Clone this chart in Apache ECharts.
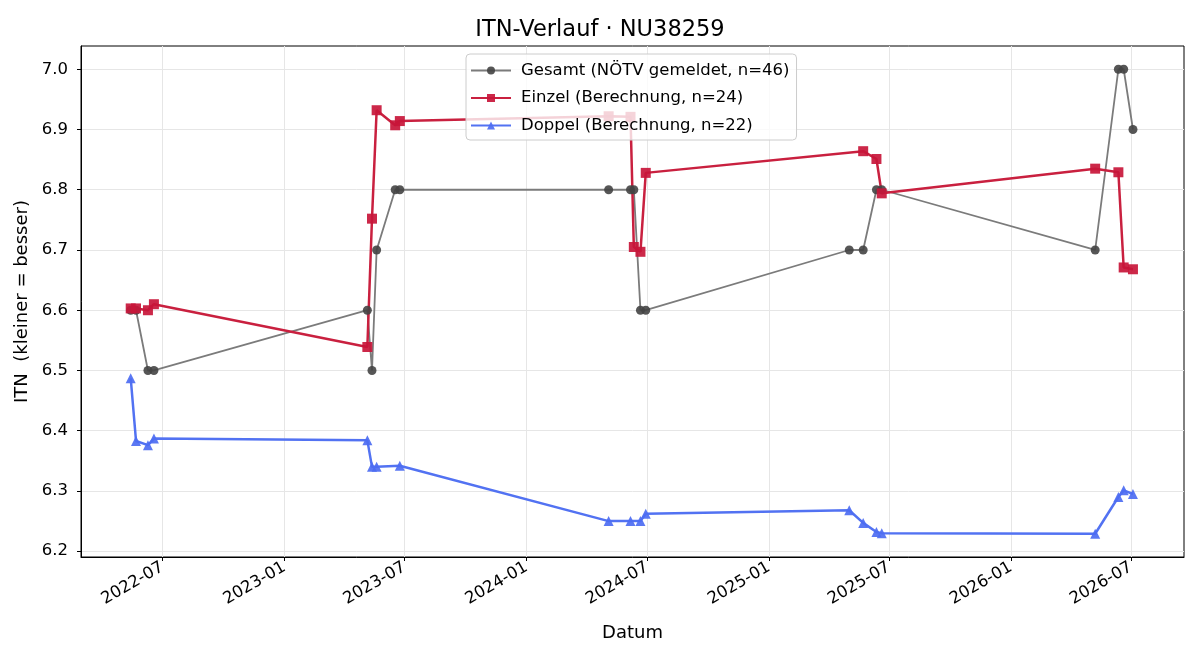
<!DOCTYPE html>
<html>
<head>
<meta charset="utf-8">
<script src="https://cdn.jsdelivr.net/npm/echarts@6/dist/echarts.min.js"></script>
<style>
  html, body { margin: 0; padding: 0; background: #fff; }
  #chart { width: 1200px; height: 660px; }
</style>
</head>
<body>
<div id="chart"></div>
<script>
// values
var gesamtDates = ['2022-05-14','2022-05-22','2022-06-09','2022-06-18','2023-05-06','2023-05-13','2023-05-20','2023-06-17','2023-06-24','2024-05-04','2024-06-06','2024-06-11','2024-06-21','2024-06-29','2025-05-02','2025-05-23','2025-06-12','2025-06-20','2026-05-08','2026-06-12','2026-06-20','2026-07-04'];
var gesamtValues = [6.6, 6.6, 6.5, 6.5, 6.6, 6.5, 6.7, 6.8, 6.8, 6.8, 6.8, 6.8, 6.6, 6.6, 6.7, 6.7, 6.8, 6.8, 6.7, 7.0, 7.0, 6.9];

var einzelDates = ['2022-05-14','2022-05-22','2022-06-09','2022-06-18','2023-05-06','2023-05-13','2023-05-20','2023-06-17','2023-06-24','2024-05-04','2024-06-06','2024-06-11','2024-06-21','2024-06-29','2025-05-23','2025-06-12','2025-06-20','2026-05-08','2026-06-12','2026-06-20','2026-07-04'];
var einzelValues = [6.603, 6.603, 6.600, 6.610, 6.539, 6.752, 6.932, 6.907, 6.914, 6.922, 6.921, 6.705, 6.697, 6.828, 6.864, 6.851, 6.794, 6.835, 6.829, 6.671, 6.668];

var doppelDates = ['2022-05-14','2022-05-22','2022-06-09','2022-06-18','2023-05-06','2023-05-13','2023-05-20','2023-06-24','2024-05-04','2024-06-06','2024-06-21','2024-06-29','2025-05-02','2025-05-23','2025-06-12','2025-06-20','2026-05-08','2026-06-12','2026-06-20','2026-07-04'];
var doppelValues = [6.487, 6.383, 6.376, 6.387, 6.384, 6.340, 6.340, 6.342, 6.250, 6.250, 6.250, 6.262, 6.268, 6.247, 6.232, 6.230, 6.229, 6.290, 6.301, 6.295];

var xTickLabels = ['2022-07','2023-01','2023-07','2024-01','2024-07','2025-01','2025-07','2026-01','2026-07'];
var yTicks = [6.2, 6.3, 6.4, 6.5, 6.6, 6.7, 6.8, 6.9, 7.0];

function ts(s) {
    var p = s.split('-');
    return new Date(+p[0], +p[1] - 1, p[2] ? +p[2] : 1).getTime();
}
function pairs(dates, values) {
    return dates.map(function (d, i) { return [ts(d), values[i]]; });
}
var xTicks = xTickLabels.map(ts);

var font = 'DejaVu Sans';
var gridColor = '#e6e6e6';

var chart = echarts.init(document.getElementById('chart'));
var option = {
    animation: false,
    textStyle: { fontFamily: font },
    title: {
        text: 'ITN-Verlauf · NU38259',
        left: 'center',
        top: 14,
        textStyle: { fontFamily: font, fontSize: 22.5, fontWeight: 'normal', color: '#000' }
    },
    legend: {
        orient: 'vertical',
        left: 466,
        top: 54,
        padding: [8, 7, 6, 4],
        itemWidth: 40,
        itemHeight: 10,
        itemGap: 10.5,
        backgroundColor: 'rgba(255,255,255,0.8)',
        borderColor: '#cccccc',
        borderWidth: 1,
        borderRadius: 4,
        textStyle: { fontFamily: font, fontSize: 16.5, color: '#000', padding: [0, 0, 0, 5] },
        data: ['Gesamt (NÖTV gemeldet, n=46)', 'Einzel (Berechnung, n=24)', 'Doppel (Berechnung, n=22)']
    },
    grid: {
        left: 81, right: 16, top: 46, bottom: 103,
        show: true, borderColor: '#000', borderWidth: 1
    },
    xAxis: {
        type: 'value',
        min: ts('2022-02-28'),
        max: ts('2026-09-19'),
        name: 'Datum',
        nameLocation: 'middle',
        nameGap: 67,
        nameTextStyle: { fontFamily: font, fontSize: 18, color: '#000' },
        axisLine: { show: true, lineStyle: { color: '#000', width: 1 } },
        axisTick: { show: true, customValues: xTicks, length: 4, lineStyle: { color: '#000' } },
        axisLabel: {
            customValues: xTicks,
            rotate: 30,
            margin: 9,
            fontFamily: font,
            fontSize: 16.5,
            color: '#000',
            formatter: function (v) {
                var i = xTicks.indexOf(v);
                return i >= 0 ? xTickLabels[i] : '';
            }
        },
        splitLine: { show: true, lineStyle: { color: gridColor, width: 1 } }
    },
    yAxis: {
        type: 'value',
        min: 6.1904,
        max: 7.0386,
        name: 'ITN  (kleiner = besser)',
        nameLocation: 'middle',
        nameGap: 47,
        nameTextStyle: { fontFamily: font, fontSize: 18, color: '#000' },
        axisLine: { show: true, lineStyle: { color: '#000', width: 1 } },
        axisTick: { show: true, customValues: yTicks, length: 4, lineStyle: { color: '#000' } },
        axisLabel: {
            customValues: yTicks,
            margin: 13,
            fontFamily: font,
            fontSize: 16.5,
            color: '#000',
            formatter: function (v) { return v.toFixed(1); }
        },
        splitLine: { show: true, lineStyle: { color: gridColor, width: 1 } }
    },
    series: [
        {
            name: 'Gesamt (NÖTV gemeldet, n=46)',
            type: 'line',
            data: pairs(gesamtDates, gesamtValues),
            symbol: 'circle',
            symbolSize: 9,
            lineStyle: { color: '#7b7b7b', width: 1.8 },
            itemStyle: { color: '#444444', opacity: 0.9 }
        },
        {
            name: 'Einzel (Berechnung, n=24)',
            type: 'line',
            data: pairs(einzelDates, einzelValues),
            symbol: 'rect',
            symbolSize: 10,
            lineStyle: { color: '#c9203f', width: 2.5 },
            itemStyle: { color: '#c8163a', opacity: 0.92 }
        },
        {
            name: 'Doppel (Berechnung, n=22)',
            type: 'line',
            data: pairs(doppelDates, doppelValues),
            symbol: 'triangle',
            symbolSize: 10,
            lineStyle: { color: '#5272f2', width: 2.5 },
            itemStyle: { color: '#4d6cf2', opacity: 0.92 }
        }
    ]
};
chart.setOption(option);
</script>
</body>
</html>
